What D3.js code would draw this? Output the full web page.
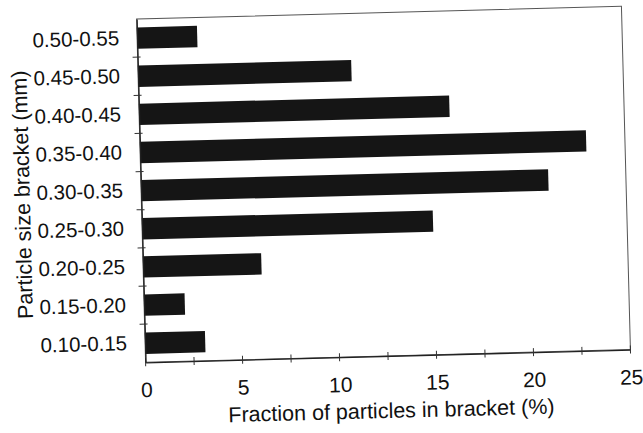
<!DOCTYPE html>
<html><head><meta charset="utf-8">
<script src="https://cdn.jsdelivr.net/npm/d3@7"></script>
<style>
html,body{margin:0;padding:0;background:#fff;}
svg{display:block;font-family:"Liberation Sans",Arial,sans-serif;}
</style></head>
<body><svg id="c" width="643" height="433"></svg>
<script>
const categories = ["0.10-0.15","0.15-0.20","0.20-0.25","0.25-0.30","0.30-0.35","0.35-0.40","0.40-0.45","0.45-0.50","0.50-0.55"];
const values = [3.1, 2.1, 6.1, 15.0, 21.0, 23.0, 16.0, 11.0, 3.1];
const xTickLabels = [0, 5, 10, 15, 20, 25];
const xMinorTicks = [0, 2.5, 5, 7.5, 10, 12.5, 15, 17.5, 20, 22.5, 25];
const xTitle = "Fraction of particles in bracket (%)";
const yTitle = "Particle size bracket (mm)";

const L = 141, R = 626, T = 12.6, B = 356;
const svg = d3.select("#c");
const g = svg.append("g").attr("transform", "rotate(-1.5,383.5,184)");

const x = d3.scaleLinear().domain([0, 25]).range([L, R]);
const y = d3.scaleBand().domain(categories.slice().reverse()).range([T, B]).paddingInner(0.44).paddingOuter(0.22);

// frame
g.append("rect").attr("x", L).attr("y", T).attr("width", R - L).attr("height", B - T)
  .attr("fill", "none").attr("stroke", "#555").attr("stroke-width", 1);

// bars
g.selectAll("rect.bar").data(categories).enter().append("rect").attr("class", "bar")
  .attr("x", x(0)).attr("y", d => y(d))
  .attr("width", (d, i) => x(values[i]) - x(0))
  .attr("height", y.bandwidth())
  .attr("fill", "#151515");

// x axis
const xa = g.append("g").attr("transform", `translate(0,${B})`)
  .call(d3.axisBottom(x).tickValues(xTickLabels).tickSize(0).tickPadding(20).tickFormat(d3.format("d")));
xa.select(".domain").attr("stroke", "#222").attr("stroke-width", 1.3);
xa.selectAll("text").attr("font-size", 21).attr("fill", "#111").attr("font-family", "Liberation Sans, Arial, sans-serif");
g.selectAll("line.xt").data(xMinorTicks).enter().append("line").attr("class", "xt")
  .attr("x1", d => x(d)).attr("x2", d => x(d)).attr("y1", B - 4).attr("y2", B + 4)
  .attr("stroke", "#333").attr("stroke-width", 1);

// y axis
const ya = g.append("g").attr("transform", `translate(${L},0)`)
  .call(d3.axisLeft(y).tickSize(0).tickPadding(18));
ya.select(".domain").attr("stroke", "#222").attr("stroke-width", 1.3);
ya.selectAll("text").attr("font-size", 20.5).attr("fill", "#111").attr("font-family", "Liberation Sans, Arial, sans-serif");
const bounds = categories.slice(1).map((d, i) => y(d) + y.bandwidth() + y.step() * y.paddingInner() / 2);
g.selectAll("line.yt").data(bounds).enter().append("line").attr("class", "yt")
  .attr("x1", L - 5).attr("x2", L + 3).attr("y1", d => d).attr("y2", d => d)
  .attr("stroke", "#333").attr("stroke-width", 1);

// titles
g.append("text").attr("x", (L + R) / 2 + 2).attr("y", 418).attr("text-anchor", "middle")
  .attr("font-size", 21.5).attr("fill", "#111").text(xTitle);
g.append("text").attr("transform", `translate(22,${(T + B) / 2 + 1}) rotate(-90)`)
  .attr("text-anchor", "middle").attr("dy", "0.35em")
  .attr("font-size", 21.5).attr("fill", "#111").text(yTitle);
</script></body></html>
